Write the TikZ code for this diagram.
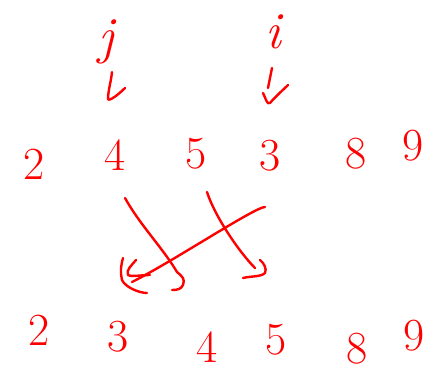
\documentclass[tikz,border=0pt]{standalone}
\begin{document}
\begin{tikzpicture}[x=1pt,y=-1pt,
  pen/.style={draw=red, line width=2.4pt, line cap=round, line join=round},
  num/.style={text=red, font=\fontsize{46}{46}\selectfont, inner sep=0pt},
  lbl/.style={text=red, font=\fontsize{52}{52}\selectfont\itshape, inner sep=0pt}]
\useasboundingbox (0,0) rectangle (439,379);
% labels
\node[lbl] (lj) at (106,42) {j};
\node[lbl] (li) at (273,32) {i};
% top row
\node[num] (t2) at (34,164) {2};
\node[num] (t4) at (115,155) {4};
\node[num] (t5) at (196,154) {5};
\node[num] (t3) at (270,156) {3};
\node[num] (t8) at (356,154) {8};
\node[num] (t9) at (413,146) {9};
% bottom row
\node[num] (b2) at (39,330) {2};
\node[num] (b3) at (118,337) {3};
\node[num] (b4) at (207,347) {4};
\node[num] (b5) at (276,340) {5};
\node[num] (b8) at (357,349) {8};
\node[num] (b9) at (414,336) {9};
% pointer arrows
\draw[pen] ([shift={(6,30)}]lj.center) .. controls +(-1,10) and +(0,-8) .. ([shift={(2,57)}]lj.center)
   .. controls +(1,3) and +(-6,6) .. ([shift={(19,46)}]lj.center);
\draw[pen] ([shift={(-1,36)}]li.center) -- ([shift={(-5,56)}]li.center);
\draw[pen] ([shift={(-10,61)}]li.center) .. controls +(3,6) and +(-3,2) .. ([shift={(-3,71)}]li.center)
   .. controls +(5,-6) and +(-4,4) .. ([shift={(15,53)}]li.center);
% swap connectors
\draw[pen] ([shift={(10,43)}]t4.center) .. controls +(15,27) and +(-15,-25) .. ([shift={(-30,-75)}]b4.center)
   .. controls +(6,5) and +(2,-6) .. ([shift={(-24,-62)}]b4.center)
   .. controls +(-2,4) and +(6,0) .. ([shift={(-35,-57)}]b4.center);
\draw[pen] ([shift={(11,38)}]t5.center) .. controls +(8,25) and +(-15,-15) .. ([shift={(-21,-72)}]b5.center);
\draw[pen] ([shift={(-16,-80)}]b5.center) .. controls +(4,3) and +(2,-4) .. ([shift={(-11,-67)}]b5.center)
   .. controls +(-4,4) and +(8,-2) .. ([shift={(-33,-62)}]b5.center);
\draw[pen] ([shift={(-5,51)}]t3.center) .. controls +(-10,0) and +(40,-20) .. ([shift={(14,-55)}]b3.center);
\draw[pen] ([shift={(5,-79)}]b3.center) .. controls +(-2,8) and +(-2,-10) .. ([shift={(4,-57)}]b3.center)
   .. controls +(3,7) and +(-8,0) .. ([shift={(29,-44)}]b3.center);
\draw[pen] ([shift={(18,-77)}]b3.center) .. controls +(-5,6) and +(-2,-5) .. ([shift={(10,-62)}]b3.center)
   .. controls +(3,2) and +(-8,0) .. ([shift={(32,-62)}]b3.center);
\end{tikzpicture}
\end{document}
